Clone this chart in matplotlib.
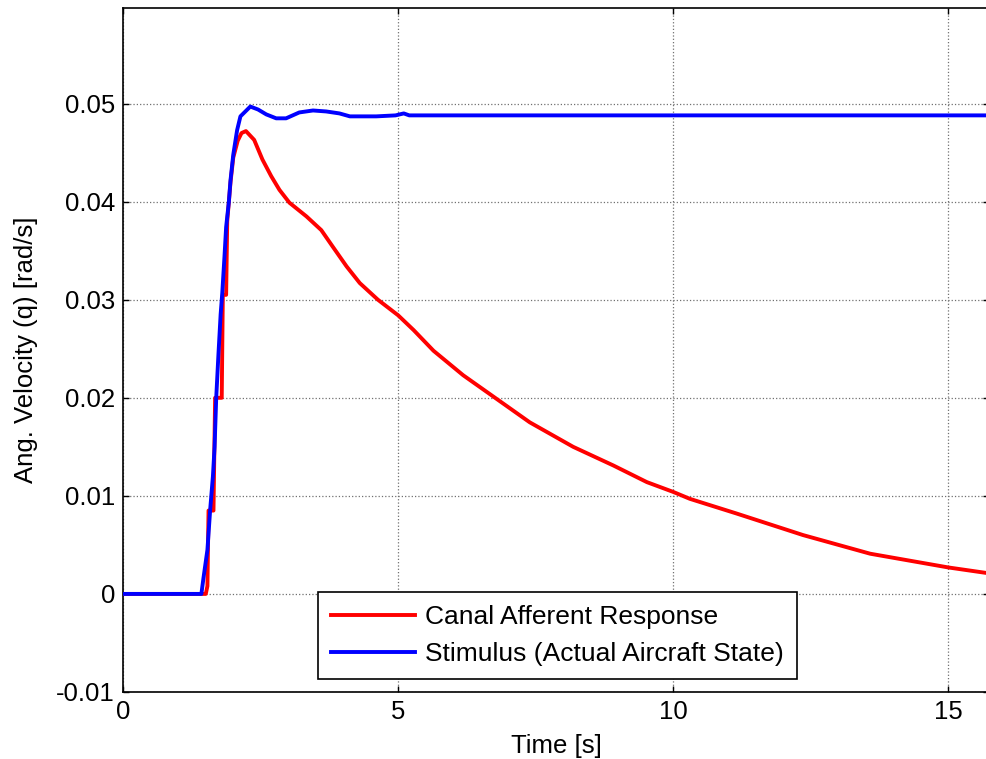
import matplotlib
matplotlib.use("Agg")
import matplotlib.pyplot as plt

plt.rcParams['font.family'] = ['Liberation Sans', 'DejaVu Sans']

# Canal afferent response (red)
t_canal = [0, 1.50, 1.53, 1.55, 1.64, 1.67, 1.79, 1.81, 1.87, 1.89, 1.95, 2.00,
           2.08, 2.15, 2.23, 2.38, 2.53, 2.69, 2.84, 3.02, 3.33, 3.60, 3.81,
           4.06, 4.30, 4.63, 5.00, 5.28, 5.64, 6.18, 6.76, 7.39, 8.18, 8.91,
           9.52, 10.0, 10.3, 11.15, 12.36, 13.58, 15.0, 15.74]
q_canal = [0, 0, 0.0008, 0.0085, 0.0085, 0.0200, 0.0200, 0.0305, 0.0305, 0.0380,
           0.0420, 0.0445, 0.0462, 0.0470, 0.0472, 0.0463, 0.0443, 0.0426,
           0.0412, 0.0399, 0.0385, 0.0371, 0.0354, 0.0334, 0.0317, 0.0300,
           0.0284, 0.0269, 0.0248, 0.0223, 0.0200, 0.0175, 0.0150, 0.0131,
           0.0114, 0.0104, 0.0097, 0.0082, 0.0060, 0.0041, 0.0027, 0.0021]

# Stimulus (blue)
t_stim = [0, 1.42, 1.46, 1.53, 1.58, 1.63, 1.66, 1.69, 1.73, 1.77, 1.80, 1.84,
          1.87, 1.92, 1.95, 2.00, 2.07, 2.13, 2.31, 2.45, 2.60, 2.78, 2.96,
          3.20, 3.45, 3.69, 3.93, 4.12, 4.60, 4.95, 5.10, 5.20, 15.74]
q_stim = [0, 0, 0.0017, 0.0045, 0.0086, 0.0120, 0.0150, 0.0200, 0.0244, 0.0285,
          0.0307, 0.0344, 0.0374, 0.0400, 0.0422, 0.0448, 0.0473, 0.0487,
          0.0497, 0.0494, 0.0489, 0.0485, 0.0485, 0.0491, 0.0493, 0.0492,
          0.0490, 0.0487, 0.0487, 0.0488, 0.0490, 0.0488, 0.0488]

fs = 18.5
fig = plt.figure(figsize=(9.87, 7.59), dpi=100)
ax = fig.add_axes([0.1249, 0.0883, 0.8771, 0.9018])

ax.plot(t_canal, q_canal, color='#ff0000', lw=2.8, label='Canal Afferent Response', zorder=3)
ax.plot(t_stim, q_stim, color='#0000ff', lw=2.8, label='Stimulus (Actual Aircraft State)', zorder=4)

ax.set_xlim(0, 15.74)
ax.set_ylim(-0.01, 0.0598)
ax.set_xticks([0, 5, 10, 15])
ax.set_yticks([-0.01, 0, 0.01, 0.02, 0.03, 0.04, 0.05])
ax.set_yticklabels(['-0.01', '0', '0.01', '0.02', '0.03', '0.04', '0.05'])
ax.tick_params(direction='in', length=4, width=1, top=True, right=True,
               labelsize=fs, pad=6)
ax.grid(True, color='#707070', linestyle=':', linewidth=0.9, zorder=0)
ax.set_axisbelow(True)
for s in ax.spines.values():
    s.set_linewidth(1.2)

ax.set_xlabel('Time [s]', fontsize=fs, labelpad=7)
ax.set_ylabel('Ang. Velocity (q) [rad/s]', fontsize=fs, labelpad=13)

leg = fig.legend(loc='upper left', bbox_to_anchor=(318.3 / 987, 1 - 591.7 / 759),
                 fontsize=19, frameon=True, fancybox=False, borderaxespad=0,
                 handlelength=3.15, handletextpad=0.4, borderpad=0.5,
                 labelspacing=0.5)
leg.get_frame().set_edgecolor('black')
leg.get_frame().set_linewidth(1.2)
leg.get_frame().set_alpha(1)

fig.savefig('out.png', dpi=100)
